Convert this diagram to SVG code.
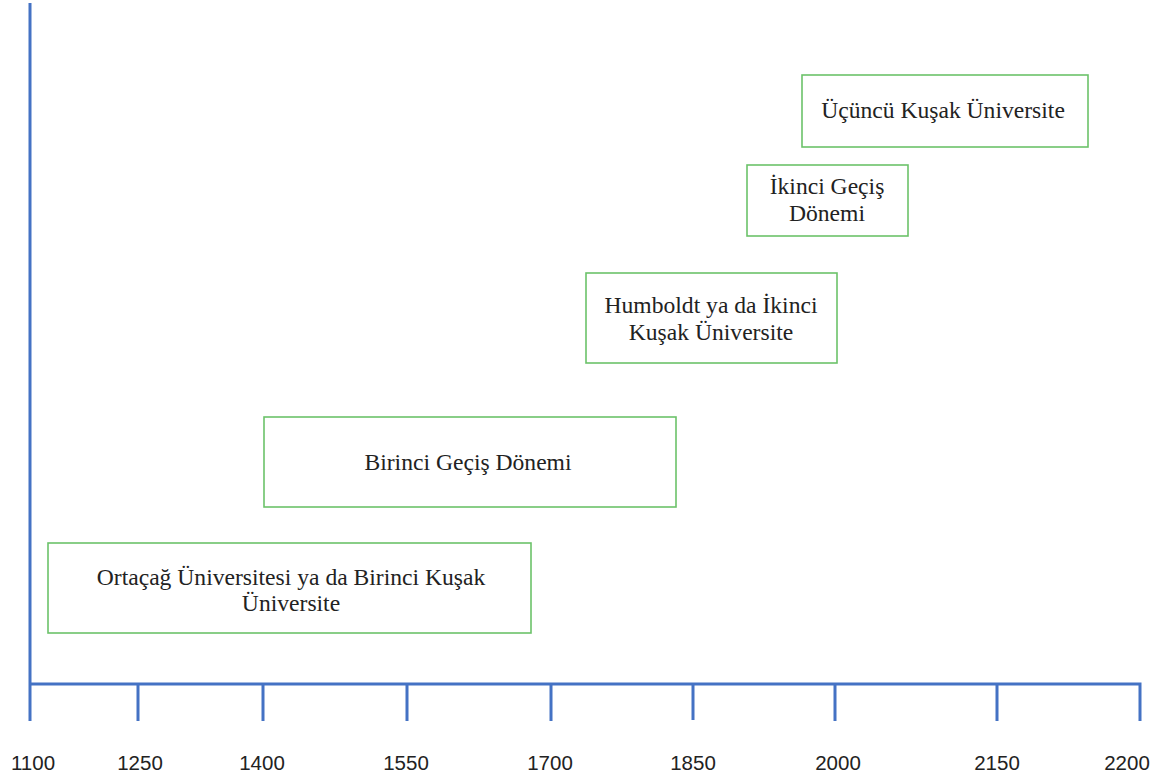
<svg xmlns="http://www.w3.org/2000/svg" width="1159" height="778" viewBox="0 0 1159 778">
<style>
.box{fill:#fff;stroke:#6cc26a;stroke-width:1.6}
.t{font-family:"Liberation Serif","Times New Roman",serif;font-size:23.6px;fill:#222;text-anchor:middle}
.ax{stroke:#4472c4;stroke-width:3;fill:none}
.lb{font-family:"Liberation Sans",Arial,sans-serif;font-size:20.5px;fill:#222;text-anchor:middle}
</style>
<rect width="1159" height="778" fill="#fff"/>
<g id="axis">
<path class="ax" d="M30 3V721M30 684H1140V721M138 684V721M263 684V721M407 684V721M551 684V721M693 684V720M835 684V721M997 684V721"/>
<text class="lb" x="33" y="770">1100</text>
<text class="lb" x="140" y="770">1250</text>
<text class="lb" x="262" y="770">1400</text>
<text class="lb" x="406" y="770">1550</text>
<text class="lb" x="550" y="770">1700</text>
<text class="lb" x="693" y="770">1850</text>
<text class="lb" x="838" y="770">2000</text>
<text class="lb" x="997" y="770">2150</text>
<text class="lb" x="1127" y="770">2200</text>
</g>
<g id="n1"><rect class="box" x="48" y="543" width="483" height="90"/>
<text class="t" x="291" y="585">Ortaçağ Üniversitesi ya da Birinci Kuşak</text>
<text class="t" x="291" y="611">Üniversite</text></g>
<g id="n2"><rect class="box" x="264" y="417" width="412" height="90"/>
<text class="t" x="468" y="470">Birinci Geçiş Dönemi</text></g>
<g id="n3"><rect class="box" x="586" y="273" width="251" height="90"/>
<text class="t" x="711" y="313">Humboldt ya da İkinci</text>
<text class="t" x="711" y="340">Kuşak Üniversite</text></g>
<g id="n4"><rect class="box" x="747" y="165" width="161" height="71"/>
<text class="t" x="827" y="194">İkinci Geçiş</text>
<text class="t" x="827" y="221">Dönemi</text></g>
<g id="n5"><rect class="box" x="802" y="75" width="286" height="72"/>
<text class="t" x="943" y="118">Üçüncü Kuşak Üniversite</text></g>
<g id="connectors"/>
</svg>
